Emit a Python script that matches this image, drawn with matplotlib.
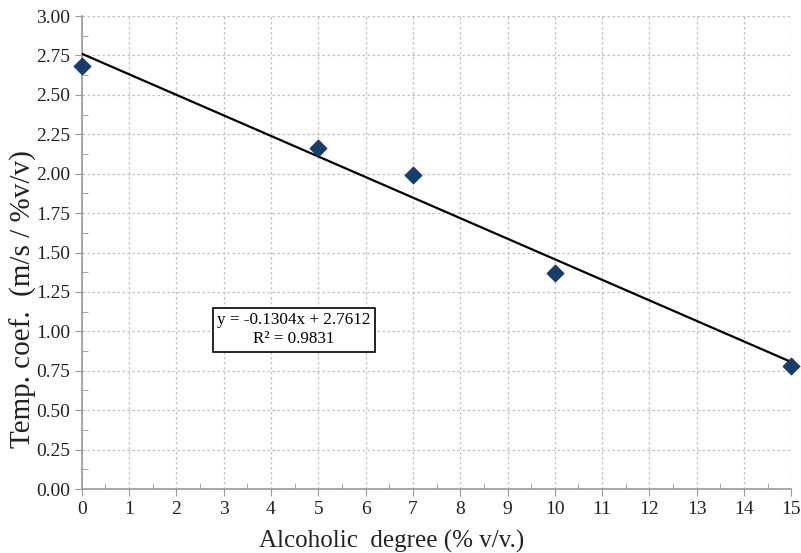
import matplotlib
matplotlib.use("Agg")
import matplotlib.pyplot as plt
import numpy as np
from matplotlib.ticker import MultipleLocator, FormatStrFormatter

plt.rcParams['font.family'] = ['Liberation Serif', 'DejaVu Serif']

alcohol = [0, 5, 7, 10, 15]
temp_coef = [2.68, 2.16, 1.99, 1.37, 0.78]
slope = -0.1304
intercept = 2.7612
r2 = 0.9831

W, H = 801, 553
fig = plt.figure(figsize=(8.01, 5.53), dpi=100)
ax = fig.add_axes([0.102, 0.1157, 0.886, 0.8553])

xs = np.array([0, 15])
ax.plot(xs, slope * xs + intercept, color='black', lw=1.6, zorder=3)
ax.scatter(alcohol, temp_coef, marker='D', s=70, color='#163d6b', zorder=4, clip_on=False)

ax.set_xlim(0, 15)
ax.set_ylim(0, 3.0)
ax.xaxis.set_major_locator(MultipleLocator(1))
ax.xaxis.set_minor_locator(MultipleLocator(0.5))
ax.yaxis.set_major_locator(MultipleLocator(0.25))
ax.yaxis.set_minor_locator(MultipleLocator(0.125))
ax.yaxis.set_major_formatter(FormatStrFormatter('%.2f'))

ax.grid(True, which='major', linestyle=(0, (2, 2)), color='#c0c0c0', lw=0.9)
for s in ['top', 'right']:
    ax.spines[s].set_visible(False)
for s in ['left', 'bottom']:
    ax.spines[s].set_color('#999999')
    ax.spines[s].set_linewidth(1.2)

ax.tick_params(which='major', direction='out', length=5, color='#999999', labelsize=14, labelcolor='#222222')
ax.tick_params(which='minor', direction='in', length=4, color='#999999')

fig.text(392 / W, 1 - 541 / H, 'Alcoholic  degree (% v/v.)', fontsize=18, color='#222222',
         ha='center', va='center')
fig.text(23 / W, 1 - 299 / H, 'Temp. coef.  (m/s / %v/v)', fontsize=21, color='#222222',
         ha='center', va='center', rotation=90)

ax.text(4.48, 1.01, f'y = {slope}x + {intercept}\nR² = {r2}', fontsize=12.3, ha='center', va='center',
        multialignment='center', linespacing=1.25,
        bbox=dict(boxstyle='square,pad=0.25', facecolor='white', edgecolor='black', lw=1.2), zorder=5)

fig.savefig('out.png', dpi=100)
